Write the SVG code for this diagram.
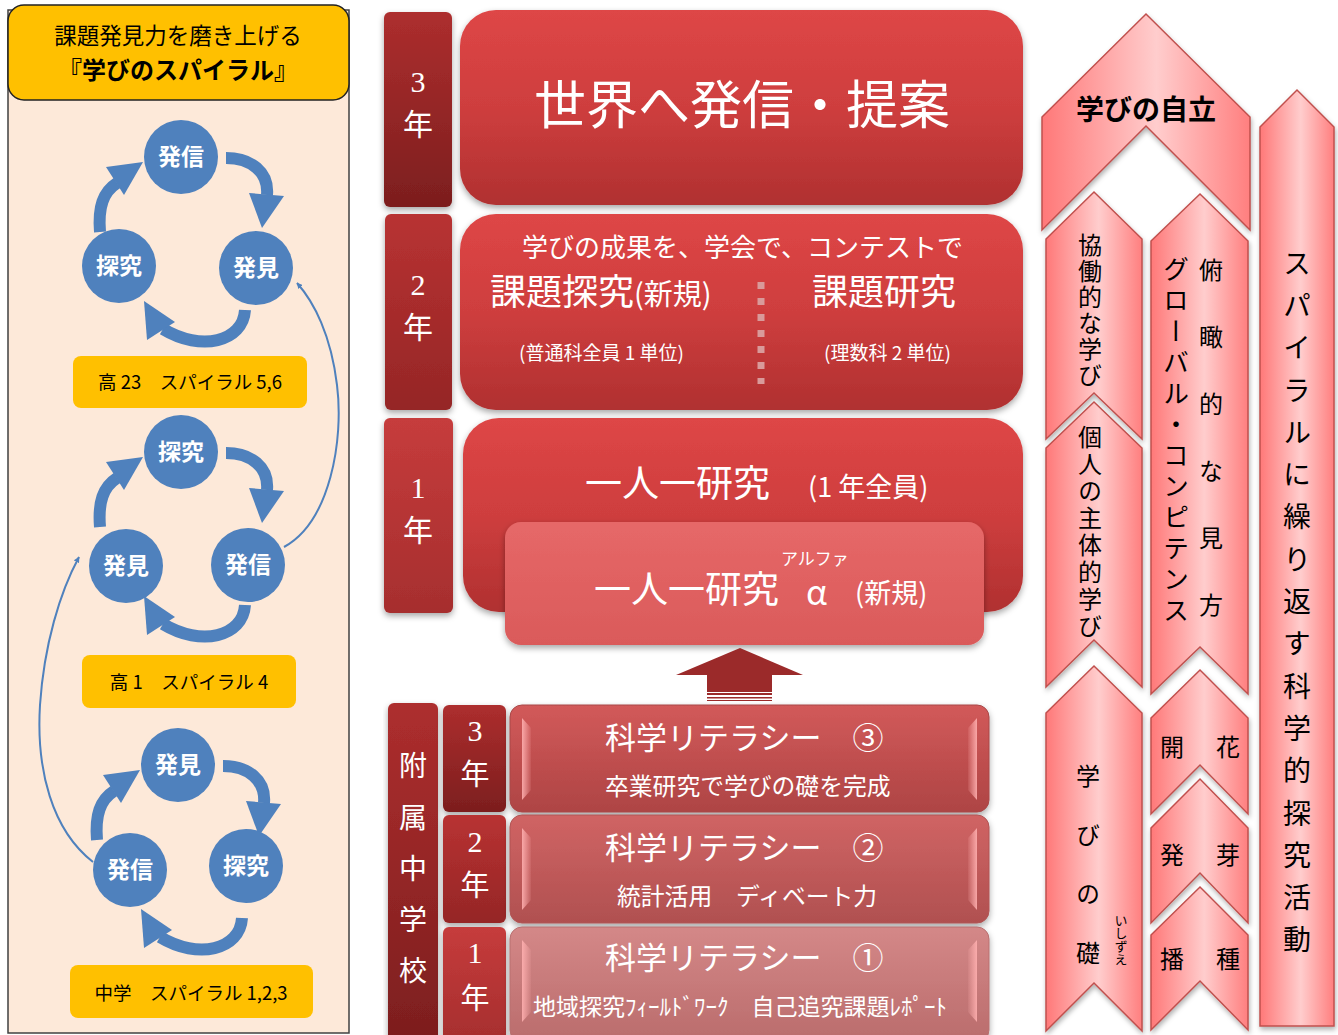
<svg xmlns="http://www.w3.org/2000/svg" xmlns:xlink="http://www.w3.org/1999/xlink" width="1338" height="1035" viewBox="0 0 1338 1035">
<defs>
<style>
.j{font-family:"Noto Sans CJK JP","Noto Sans CJK SC",sans-serif}
.s{font-family:"Liberation Serif","Noto Sans CJK JP",serif}
.w{fill:#ffffff}
.k{fill:#000000}
.cir{fill:#4F81BD}
.ct{font-family:"Noto Sans CJK JP",sans-serif;font-weight:bold;font-size:23px;fill:#ffffff;text-anchor:middle}
.lab{fill:#FFC000}
.lt{font-family:"Noto Sans CJK JP",sans-serif;font-size:18.5px;fill:#000;text-anchor:middle}
.shaft{fill:none;stroke:#4F81BD;stroke-width:12}
.head{fill:#4F81BD}
.thin{fill:none;stroke:#4F81BD;stroke-width:2}
.chev{fill:url(#gChev);stroke:#C0504D;stroke-width:1.5;filter:url(#sh2)}
.vt{font-family:"Noto Sans CJK JP",sans-serif;writing-mode:vertical-rl;fill:#000}
.mid{text-anchor:middle}
</style>
<linearGradient id="gTop" x1="0" y1="0" x2="0" y2="1">
<stop offset="0" stop-color="#DE4646"/><stop offset="0.5" stop-color="#CE3E3E"/><stop offset="1" stop-color="#B03030"/>
</linearGradient>
<linearGradient id="gAlpha" x1="0" y1="0" x2="0" y2="1">
<stop offset="0" stop-color="#E66868"/><stop offset="1" stop-color="#DA5A5A"/>
</linearGradient>
<linearGradient id="gYr" x1="0" y1="0" x2="0" y2="1">
<stop offset="0" stop-color="#AD2E2E"/><stop offset="1" stop-color="#7C1E1E"/>
</linearGradient>
<linearGradient id="gYr2" x1="0" y1="0" x2="0" y2="1">
<stop offset="0" stop-color="#B83232"/><stop offset="1" stop-color="#952626"/>
</linearGradient>
<linearGradient id="gYr1" x1="0" y1="0" x2="0" y2="1">
<stop offset="0" stop-color="#C63C3C"/><stop offset="1" stop-color="#A62E2E"/>
</linearGradient>
<linearGradient id="gL3" x1="0" y1="0" x2="0" y2="1">
<stop offset="0" stop-color="#D25A5A"/><stop offset="1" stop-color="#AE4444"/>
</linearGradient>
<linearGradient id="gL2" x1="0" y1="0" x2="0" y2="1">
<stop offset="0" stop-color="#D06464"/><stop offset="1" stop-color="#B05050"/>
</linearGradient>
<linearGradient id="gL1" x1="0" y1="0" x2="0" y2="1">
<stop offset="0" stop-color="#D48888"/><stop offset="1" stop-color="#BA6C6C"/>
</linearGradient>
<linearGradient id="gChev" x1="0" y1="0" x2="1" y2="0">
<stop offset="0" stop-color="#FF7878"/><stop offset="0.55" stop-color="#FFCDCD"/><stop offset="1" stop-color="#FF7F7F"/>
</linearGradient>
<linearGradient id="gHi" x1="0" y1="0" x2="1" y2="0">
<stop offset="0" stop-color="#FFB0B0" stop-opacity="0.9"/><stop offset="1" stop-color="#FFB0B0" stop-opacity="0.1"/>
</linearGradient>
<linearGradient id="gHiR" x1="1" y1="0" x2="0" y2="0">
<stop offset="0" stop-color="#FFB0B0" stop-opacity="0.9"/><stop offset="1" stop-color="#FFB0B0" stop-opacity="0.1"/>
</linearGradient>
<filter id="sh" x="-10%" y="-10%" width="120%" height="130%">
<feDropShadow dx="0" dy="3" stdDeviation="3" flood-color="#000" flood-opacity="0.35"/>
</filter>
<filter id="sh2" x="-20%" y="-10%" width="140%" height="130%">
<feDropShadow dx="1" dy="3" stdDeviation="2.5" flood-color="#000" flood-opacity="0.3"/>
</filter>
<marker id="ah" viewBox="0 0 10 10" refX="9" refY="5" markerWidth="6" markerHeight="6" orient="auto-start-reverse" markerUnits="userSpaceOnUse">
<path d="M0 0 L10 5 L0 10 Z" fill="#4F81BD"/>
</marker>
<g id="cyc">
<path class="shaft" d="M -81 75 C -83 50 -78 35 -64 26"/>
<polygon class="head" points="-75,10 -38,5 -57,38"/>
<path class="shaft" d="M 45 1 C 70 1 88 15 86 38"/>
<polygon class="head" points="68,36 103,39 81,71"/>
<path class="shaft" d="M 64 153 C 62 185 20 195 -18 172"/>
<polygon class="head" points="-37,144 -6,165 -34,183"/>
</g>
</defs>

<rect width="1338" height="1035" fill="#ffffff"/>

<!-- left panel -->
<g id="spiral-panel">
<rect x="8" y="10" width="341" height="1023" fill="#FDE9D9" stroke="#404040" stroke-width="1.5"/>
<rect x="8" y="5" width="341" height="95" rx="16" fill="#FFC000" stroke="#222" stroke-width="1.5"/>
<text class="j k mid" x="178" y="44" font-size="22.5">課題発見力を磨き上げる</text>
<text class="j k mid" x="178" y="79" font-size="24" font-weight="bold">『学びのスパイラル』</text>
</g>

<g id="connectors">
<use xlink:href="#cyc" href="#cyc" transform="translate(181,157)"/>
<use xlink:href="#cyc" href="#cyc" transform="translate(181,452)"/>
<use xlink:href="#cyc" href="#cyc" transform="translate(178,765)"/>
<path class="thin" d="M 284 547 C 330 522 344 440 337 385 C 331 335 314 302 297 283" marker-end="url(#ah)"/>
<path class="thin" d="M 93 862 C 52 830 36 770 40 705 C 44 645 60 592 79 557" marker-end="url(#ah)"/>
</g>

<g id="cycle-hs23">
<circle class="cir" cx="181" cy="157" r="37"/><text class="ct" x="181" y="165">発信</text>
<circle class="cir" cx="119" cy="266" r="37"/><text class="ct" x="119" y="274">探究</text>
<circle class="cir" cx="256" cy="268" r="37"/><text class="ct" x="256" y="276">発見</text>
<rect class="lab" x="73" y="356" width="234" height="52" rx="8"/>
<text class="lt" x="190" y="389">高 23　スパイラル 5,6</text>
</g>
<g id="cycle-hs1">
<circle class="cir" cx="181" cy="452" r="37"/><text class="ct" x="181" y="460">探究</text>
<circle class="cir" cx="126" cy="566" r="37"/><text class="ct" x="126" y="574">発見</text>
<circle class="cir" cx="248" cy="565" r="37"/><text class="ct" x="248" y="573">発信</text>
<rect class="lab" x="82" y="655" width="214" height="53" rx="8"/>
<text class="lt" x="189" y="689">高 1　スパイラル 4</text>
</g>
<g id="cycle-jh">
<circle class="cir" cx="178" cy="765" r="37"/><text class="ct" x="178" y="773">発見</text>
<circle class="cir" cx="130" cy="870" r="37"/><text class="ct" x="130" y="878">発信</text>
<circle class="cir" cx="246" cy="866" r="37"/><text class="ct" x="246" y="874">探究</text>
<rect class="lab" x="70" y="965" width="243" height="53" rx="8"/>
<text class="lt" x="191" y="1000">中学　スパイラル 1,2,3</text>
</g>

<!-- high school grades -->
<g id="hs3">
<rect x="384" y="12" width="68" height="195" rx="6" fill="url(#gYr)" filter="url(#sh)"/>
<text class="s w mid" x="418" y="92" font-size="30">3</text>
<text class="j w mid" x="418" y="135" font-size="30">年</text>
<rect x="460" y="10" width="563" height="195" rx="36" fill="url(#gTop)" filter="url(#sh)"/>
<text class="j w mid" x="742" y="124" font-size="52">世界へ発信・提案</text>
</g>
<g id="hs2">
<rect x="385" y="214" width="67" height="196" rx="6" fill="url(#gYr2)" filter="url(#sh)"/>
<text class="s w mid" x="418" y="295" font-size="30">2</text>
<text class="j w mid" x="418" y="338" font-size="30">年</text>
<rect x="460" y="214" width="563" height="196" rx="36" fill="url(#gTop)" filter="url(#sh)"/>
<text class="j w" x="522" y="257" font-size="26">学びの成果を、学会で、コンテストで</text>
<text class="j w" x="490" y="305" font-size="36">課題探究<tspan font-size="29">(新規)</tspan></text>
<text class="j w" x="812" y="305" font-size="36">課題研究</text>
<text class="j w" x="519" y="360" font-size="19">(普通科全員 1 単位)</text>
<text class="j w" x="824" y="360" font-size="19">(理数科 2 単位)</text>
<line x1="761" y1="282" x2="761" y2="384" stroke="#D99A9A" stroke-width="7" stroke-dasharray="7 9"/>
</g>
<g id="hs1">
<rect x="384" y="418" width="69" height="195" rx="6" fill="url(#gYr1)" filter="url(#sh)"/>
<text class="s w mid" x="418" y="498" font-size="30">1</text>
<text class="j w mid" x="418" y="541" font-size="30">年</text>
<rect x="463" y="418" width="560" height="194" rx="36" fill="url(#gTop)" filter="url(#sh)"/>
<text class="j w" x="585" y="497" font-size="37">一人一研究</text>
<text class="j w" x="808" y="497" font-size="27">(1 年全員)</text>
</g>
<g id="hs1-alpha">
<rect x="505" y="522" width="479" height="123" rx="16" fill="url(#gAlpha)" filter="url(#sh)"/>
<text class="j w" x="594" y="603" font-size="37">一人一研究</text>
<text class="j w" x="806" y="605" font-size="34">α</text>
<text class="j w" x="855" y="603" font-size="27">(新規)</text>
<text class="j w" x="781" y="565" font-size="17">アルファ</text>
</g>

<g id="up-arrow">
<polygon points="676,675 740,648 803,675" fill="#9B2A2A"/>
<rect x="707" y="674" width="65" height="18" fill="#9B2A2A"/>
<rect x="707" y="693" width="65" height="2" fill="#9B2A2A"/>
<rect x="707" y="697" width="65" height="1.5" fill="#9B2A2A"/>
<rect x="707" y="700" width="65" height="1" fill="#9B2A2A"/>
</g>

<!-- junior high -->
<g id="jh">
<rect x="388" y="703" width="50" height="340" rx="6" fill="url(#gYr)" filter="url(#sh)"/>
<text class="j w mid" x="413" y="776" font-size="28">附</text>
<text class="j w mid" x="413" y="828" font-size="28">属</text>
<text class="j w mid" x="413" y="879" font-size="28">中</text>
<text class="j w mid" x="413" y="930" font-size="28">学</text>
<text class="j w mid" x="413" y="981" font-size="28">校</text>
</g>
<g id="jh3">
<rect x="443" y="705" width="63" height="107" rx="6" fill="url(#gYr)" filter="url(#sh)"/>
<text class="s w mid" x="475" y="741" font-size="30">3</text>
<text class="j w mid" x="475" y="785" font-size="29">年</text>
<rect x="510" y="705" width="479" height="107" rx="12" fill="url(#gL3)" stroke="#A84848" filter="url(#sh)"/>
<polygon points="522,718 531,728 531,790 522,800" fill="url(#gHi)"/>
<polygon points="977,718 968,728 968,790 977,800" fill="url(#gHiR)"/>
<text class="j w" x="605" y="749" font-size="31">科学リテラシー　③</text>
<text class="j w" x="605" y="795" font-size="23.8">卒業研究で学びの礎を完成</text>
</g>
<g id="jh2">
<rect x="443" y="815" width="63" height="108" rx="6" fill="url(#gYr2)" filter="url(#sh)"/>
<text class="s w mid" x="475" y="852" font-size="30">2</text>
<text class="j w mid" x="475" y="896" font-size="29">年</text>
<rect x="510" y="815" width="479" height="108" rx="12" fill="url(#gL2)" stroke="#B05555" filter="url(#sh)"/>
<polygon points="522,828 531,838 531,900 522,910" fill="url(#gHi)"/>
<polygon points="977,828 968,838 968,900 977,910" fill="url(#gHiR)"/>
<text class="j w" x="605" y="859" font-size="31">科学リテラシー　②</text>
<text class="j w" x="617" y="905" font-size="23.8">統計活用　ディベート力</text>
</g>
<g id="jh1">
<rect x="443" y="927" width="63" height="115" rx="6" fill="url(#gYr1)" filter="url(#sh)"/>
<text class="s w mid" x="475" y="963" font-size="30">1</text>
<text class="j w mid" x="475" y="1009" font-size="29">年</text>
<rect x="510" y="927" width="479" height="115" rx="12" fill="url(#gL1)" stroke="#B87070" filter="url(#sh)"/>
<polygon points="522,940 531,950 531,1012 522,1022" fill="url(#gHi)"/>
<polygon points="977,940 968,950 968,1012 977,1022" fill="url(#gHiR)"/>
<text class="j w" x="605" y="969" font-size="31">科学リテラシー　①</text>
<text class="j w" x="533" y="1015" font-size="23">地域探究ﾌｨｰﾙﾄﾞﾜｰｸ　自己追究課題ﾚﾎﾟｰﾄ</text>
</g>

<!-- right chevrons -->
<g id="spiral-bar">
<path class="chev" d="M 1260 127 L 1297 90 L 1334 127 L 1334 1026 L 1260 1026 Z"/>
<text class="vt" x="1297" y="249" font-size="28" letter-spacing="14.3">スパイラルに繰り返す科学的探究活動</text>
</g>
<g id="jiritsu">
<path class="chev" d="M 1042 117 L 1146 14 L 1250 117 L 1250 230 L 1146 126 L 1042 230 Z"/>
<text class="j k mid" x="1146" y="120" font-size="28" font-weight="bold">学びの自立</text>
</g>
<g id="kyodo">
<path class="chev" d="M 1046 239 L 1094 192 L 1142 239 L 1142 439 L 1094 393 L 1046 439 Z"/>
<text class="vt" x="1090" y="233" font-size="24" letter-spacing="2">協働的な学び</text>
</g>
<g id="kojin">
<path class="chev" d="M 1046 448 L 1094 402 L 1142 448 L 1142 687 L 1094 640 L 1046 687 Z"/>
<text class="vt" x="1090" y="425" font-size="24" letter-spacing="3">個人の主体的学び</text>
</g>
<g id="ishizue">
<path class="chev" d="M 1046 713 L 1094 666 L 1142 713 L 1142 1031 L 1094 983 L 1046 1031 Z"/>
<text class="vt" x="1088" y="764" font-size="24" letter-spacing="35">学びの礎</text>
<text class="vt" x="1121" y="914" font-size="13">いしずえ</text>
</g>
<g id="fukan">
<path class="chev" d="M 1151 241 L 1200 194 L 1248 241 L 1248 694 L 1200 647 L 1151 694 Z"/>
<text class="vt" x="1211" y="258" font-size="24" letter-spacing="43">俯瞰的な見方</text>
<text class="vt" x="1176" y="256" font-size="26" letter-spacing="5">グローバル・コンピテンス</text>
</g>
<g id="kaika">
<path class="chev" d="M 1151 718 L 1200 670 L 1248 718 L 1248 814 L 1200 765 L 1151 814 Z"/>
<text class="j k mid" x="1202" y="756" font-size="24" letter-spacing="4">開　花</text>
</g>
<g id="hatsuga">
<path class="chev" d="M 1151 828 L 1200 779 L 1248 828 L 1248 923 L 1200 873 L 1151 923 Z"/>
<text class="j k mid" x="1202" y="864" font-size="24" letter-spacing="4">発　芽</text>
</g>
<g id="hashu">
<path class="chev" d="M 1151 935 L 1200 887 L 1248 935 L 1248 1030 L 1200 981 L 1151 1030 Z"/>
<text class="j k mid" x="1202" y="968" font-size="24" letter-spacing="4">播　種</text>
</g>
</svg>
